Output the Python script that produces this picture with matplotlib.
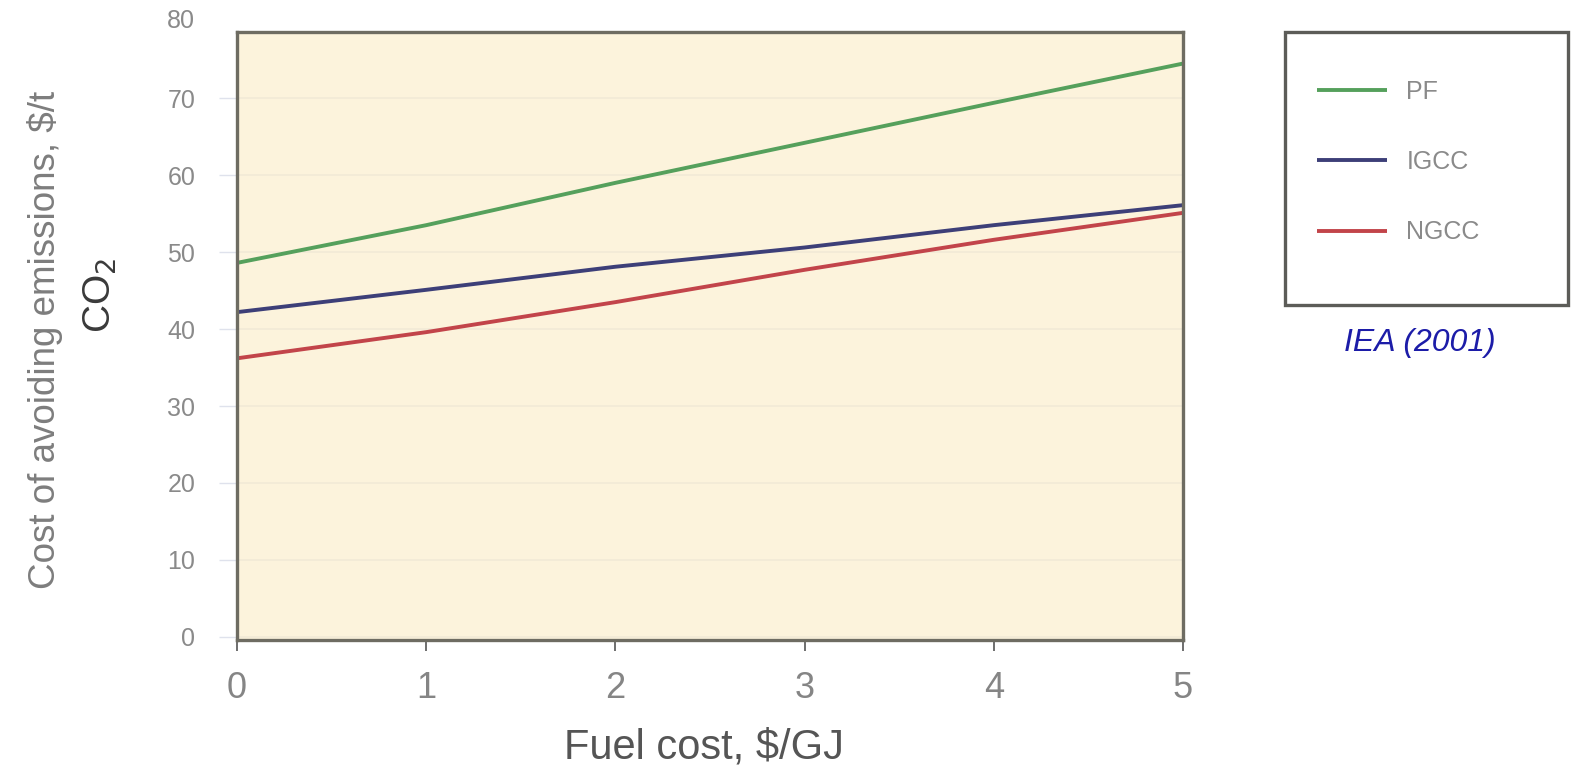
import matplotlib.pyplot as plt
from matplotlib.patches import Rectangle

# data
fuel_cost = [0, 1, 2, 3, 4, 5]
pf = [48.6, 53.5, 59.0, 64.2, 69.4, 74.5]
igcc = [42.2, 45.1, 48.1, 50.6, 53.5, 56.1]
ngcc = [36.2, 39.6, 43.5, 47.7, 51.6, 55.1]
series_names = ['PF', 'IGCC', 'NGCC']
series_colors = ['#55a05c', '#3d3f78', '#c2444a']
y_ticks = [0, 10, 20, 30, 40, 50, 60, 70]

plt.rcParams['font.family'] = ['Liberation Sans', 'DejaVu Sans']

fig = plt.figure(figsize=(15.73, 7.74), dpi=100)
ax = fig.add_axes([237 / 1573, 1 - 640 / 774, 946 / 1573, 608 / 774])
ax.set_facecolor('#fcf3dc')

handles = []
for vals, name, col in zip([pf, igcc, ngcc], series_names, series_colors):
    h, = ax.plot(fuel_cost, vals, color=col, lw=2.8, label=name, solid_capstyle='butt')
    handles.append(h)

ax.set_xlim(0, 5)
ax.set_ylim(-0.4, 78.6)
ax.set_yticks(y_ticks)
ax.set_xticks(fuel_cost)
ax.grid(axis='y', color='#f2ead6', lw=1.2)
ax.set_axisbelow(True)

for s in ax.spines.values():
    s.set_color('#6e6c62')
    s.set_linewidth(2.4)

ax.tick_params(axis='y', length=13, width=1, color='#dfe2ec', pad=17,
               labelsize=18, labelcolor='#8a8a8a')
ax.tick_params(axis='x', length=8, width=1.2, color='#555555', pad=14,
               labelsize=26, labelcolor='#858585')
# the 80 label sits above the plot frame
ax.annotate('80', xy=(0, 80), xycoords=('axes fraction', 'data'),
            xytext=(-30, 0), textcoords='offset points', ha='right', va='center',
            fontsize=18, color='#8a8a8a', annotation_clip=False)

fig.text(45 / 1573, 1 - 340 / 774, 'Cost of avoiding emissions, $/t', rotation=90,
         ha='center', va='center', fontsize=26.5, color='#7d7d7d')
fig.text(100 / 1573, 1 - 295 / 774, 'CO$_2$', rotation=90,
         ha='center', va='center', fontsize=28, color='#3a3a3a')
fig.text(704 / 1573, 1 - 748 / 774, 'Fuel cost, $/GJ', ha='center', va='center',
         fontsize=30, color='#555555')

# legend box
fig.patches.append(Rectangle((1285 / 1573, 1 - 305 / 774), 283 / 1573, 273 / 774,
                             transform=fig.transFigure, fill=False,
                             edgecolor='#5c5c58', lw=2.4))
fig.legend(handles, series_names, loc='center left',
           bbox_to_anchor=(1304 / 1573, 1 - 162 / 774), frameon=False,
           fontsize=18, labelcolor='#8a8a8a', handlelength=2.8,
           handletextpad=0.8, labelspacing=1.85, borderpad=0)

fig.text(1420 / 1573, 1 - 343 / 774, 'IEA (2001)', ha='center', va='center',
         fontsize=23, color='#1c1ca8', style='italic')

fig.savefig('out.png', dpi=100)
